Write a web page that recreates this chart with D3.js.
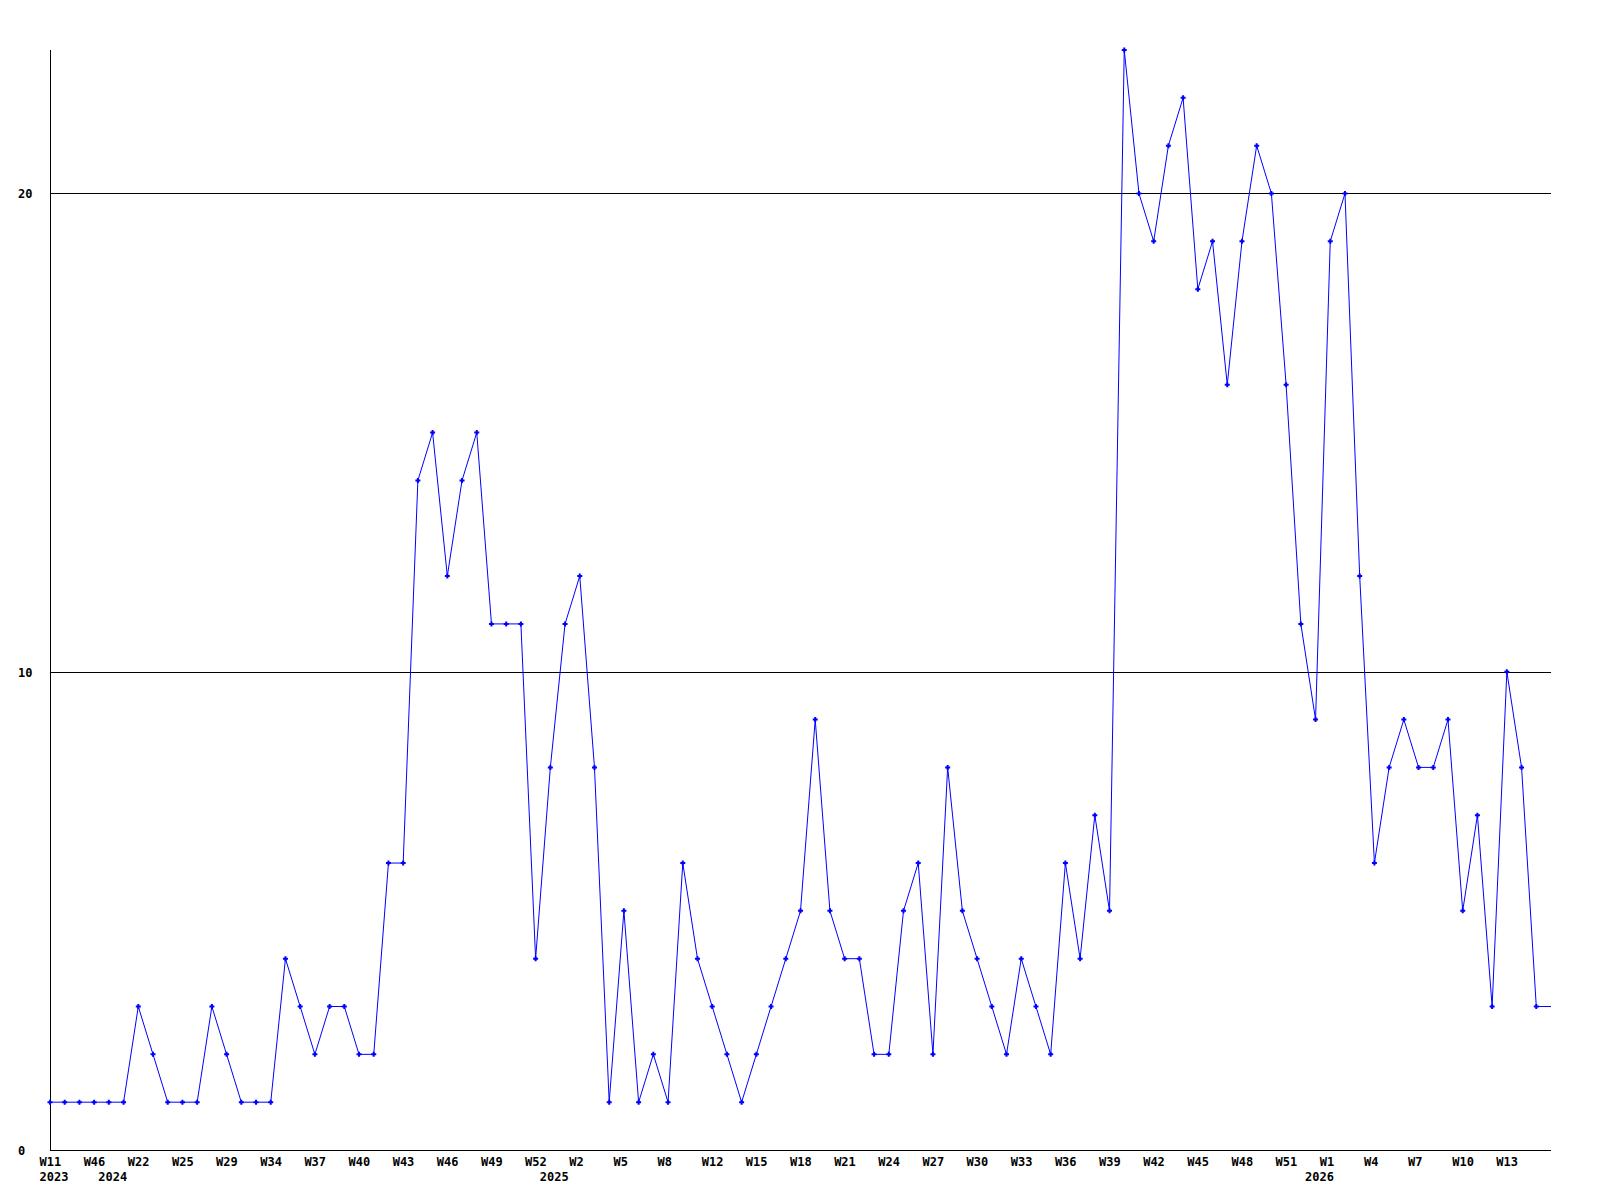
<!DOCTYPE html>
<html>
<head>
<meta charset="utf-8">
<script src="https://cdn.jsdelivr.net/npm/d3@7"></script>
<style>
  body { margin: 0; background: #fff; }
  svg text { font-family: "DejaVu Sans Mono", monospace; font-weight: bold; font-size: 12px; fill: #000; }
</style>
</head>
<body>
<svg id="chart" width="1600" height="1200"></svg>
<script>
// weekly counts, one per week slot; last slot is drawn without a marker
const values = [
  1, 1, 1, 1, 1, 1, 3, 2, 1, 1, 1, 3, 2, 1, 1, 1, 4, 3, 2, 3,
  3, 2, 2, 6, 6, 14, 15, 12, 14, 15, 11, 11, 11, 4, 8, 11, 12, 8, 1, 5,
  1, 2, 1, 6, 4, 3, 2, 1, 2, 3, 4, 5, 9, 5, 4, 4, 2, 2, 5, 6,
  2, 8, 5, 4, 3, 2, 4, 3, 2, 6, 4, 7, 5, 23, 20, 19, 21, 22, 18, 19,
  16, 19, 21, 20, 16, 11, 9, 19, 20, 12, 6, 8, 9, 8, 8, 9, 5, 7, 3, 10,
  8, 3, 3
];

// week tick labels, one every 3 slots starting at slot 0
const weekLabels = [
  'W11', 'W46', 'W22', 'W25', 'W29', 'W34', 'W37', 'W40', 'W43', 'W46',
  'W49', 'W52', 'W2', 'W5', 'W8', 'W12', 'W15', 'W18', 'W21', 'W24',
  'W27', 'W30', 'W33', 'W36', 'W39', 'W42', 'W45', 'W48', 'W51', 'W1',
  'W4', 'W7', 'W10', 'W13'
];

const yearLabels = ['2023', '2024', '2025', '2026'];
const yearSlots = [0, 4, 34, 86];

const yTicks = [0, 10, 20];

const margin = { left: 50, right: 49, top: 50, bottom: 50 };
const width = 1600 - margin.left - margin.right;
const height = 1200 - margin.top - margin.bottom;

const svg = d3.select('#chart');

const xScale = d3.scaleLinear()
  .domain([0, values.length - 1])
  .range([margin.left, margin.left + width]);

const yScale = d3.scaleLinear()
  .domain([0, 23])
  .range([margin.top + height, margin.top]);

// grid lines
svg.append('g')
  .selectAll('line')
  .data(yTicks.filter(d => d > 0))
  .enter()
  .append('line')
  .attr('x1', margin.left)
  .attr('x2', margin.left + width)
  .attr('y1', d => Math.round(yScale(d)) + 0.5)
  .attr('y2', d => Math.round(yScale(d)) + 0.5)
  .attr('stroke', '#000')
  .attr('shape-rendering', 'crispEdges');

// axes lines
svg.append('line')
  .attr('x1', margin.left + 0.5).attr('x2', margin.left + 0.5)
  .attr('y1', margin.top).attr('y2', margin.top + height)
  .attr('stroke', '#000').attr('shape-rendering', 'crispEdges');

svg.append('line')
  .attr('x1', margin.left).attr('x2', margin.left + width)
  .attr('y1', margin.top + height + 0.5).attr('y2', margin.top + height + 0.5)
  .attr('stroke', '#000').attr('shape-rendering', 'crispEdges');

// y labels
svg.append('g')
  .selectAll('text')
  .data(yTicks)
  .enter()
  .append('text')
  .attr('x', 18)
  .attr('y', d => yScale(d) + 5)
  .text(d => d);

// week labels
svg.append('g')
  .selectAll('text')
  .data(weekLabels)
  .enter()
  .append('text')
  .attr('x', (d, i) => xScale(i * 3) - 10.5)
  .attr('y', 1165.5)
  .text(d => d);

// year labels
svg.append('g')
  .selectAll('text')
  .data(yearLabels)
  .enter()
  .append('text')
  .attr('x', (d, i) => xScale(yearSlots[i]) - 10.5)
  .attr('y', 1181)
  .text(d => d);

// the line
const line = d3.line()
  .x((d, i) => xScale(i))
  .y(d => yScale(d));

svg.append('path')
  .datum(values)
  .attr('d', line)
  .attr('fill', 'none')
  .attr('stroke', '#0000ff')
  .attr('stroke-width', 1);

// markers
svg.append('g')
  .selectAll('path')
  .data(values.slice(0, values.length - 1))
  .enter()
  .append('path')
  .attr('transform', (d, i) => `translate(${xScale(i)},${yScale(d)})`)
  .attr('d', 'M-2.5,0H2.5M0,-2.5V2.5')
  .attr('stroke', '#0000ff')
  .attr('stroke-width', 2)
  .attr('fill', 'none');
</script>
</body>
</html>
